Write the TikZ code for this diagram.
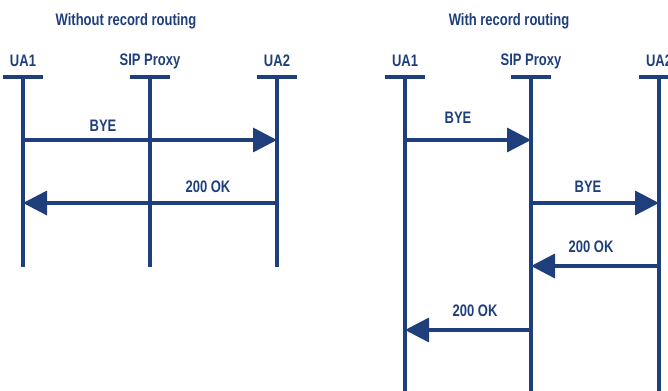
\documentclass[tikz,border=0pt]{standalone}
\usepackage{fontspec}
\setmainfont[FakeStretch=0.78]{Liberation Sans}
\usetikzlibrary{arrows.meta}
\definecolor{sipblue}{HTML}{1F3F7C}
\tikzset{
  lifeline/.style={sipblue, line width=3pt},
  headbar/.style={sipblue, line width=2.4pt},
  msg/.style={sipblue, line width=2.6pt, -{Triangle[length=18pt,width=18pt]}},
  lbl/.style={text=sipblue, font=\bfseries\fontsize{12.5}{14}\selectfont, inner sep=1pt},
  ttl/.style={text=sipblue, font=\bfseries\fontsize{12.5}{14}\selectfont, inner sep=1pt}
}
\begin{document}
\begin{tikzpicture}[x=0.75pt, y=-0.75pt]
    \useasboundingbox (0,0) rectangle (668,391);

    % Titles of the two cases
    \node[ttl] (t-left) at (126,21) {Without record routing};
    \node[ttl] (t-right) at (509,21) {With record routing};

    % Draw the lifelines of the left case (no record routing)
    \foreach \name/\x/\txt in {a/23/UA1, b/150/SIP Proxy, c/277/UA2} {
        \node[lbl] (l-\name) at (\x,61) {\txt};
        \coordinate (l-\name-top) at (\x,77);
        \coordinate (l-\name-bot) at (\x,267);
        \draw[headbar] ([xshift=-15]l-\name-top) -- ([xshift=15]l-\name-top);
        \draw[lifeline] (l-\name-top) -- (l-\name-bot);
    }

    % Draw the lifelines of the right case (with record routing)
    \foreach \name/\x/\txt in {a/405/UA1, b/531/SIP Proxy, c/659/UA2} {
        \node[lbl] (r-\name) at (\x,61) {\txt};
        \coordinate (r-\name-top) at (\x,77);
        \coordinate (r-\name-bot) at (\x,391);
        \draw[headbar] ([xshift=-15]r-\name-top) -- ([xshift=15]r-\name-top);
        \draw[lifeline] (r-\name-top) -- (r-\name-bot);
    }

    % Messages on the left: BYE goes straight to UA2, 200 OK straight back
    \coordinate (l-bye-from) at (23,140);
    \coordinate (l-bye-to) at (277,140);
    \coordinate (l-ok-from) at (277,203);
    \coordinate (l-ok-to) at (23,203);
    \draw[msg] (l-bye-from) -- (l-bye-to);
    \draw[msg] (l-ok-from) -- (l-ok-to);
    \node[lbl] (l-bye) at (103,126) {BYE};
    \node[lbl] (l-ok) at (208,187) {200 OK};

    % Messages on the right: every message passes through the proxy
    \coordinate (r-bye1-from) at (405,140);
    \coordinate (r-bye1-to) at (531,140);
    \coordinate (r-bye2-from) at (531,203);
    \coordinate (r-bye2-to) at (659,203);
    \coordinate (r-ok1-from) at (659,266);
    \coordinate (r-ok1-to) at (531,266);
    \coordinate (r-ok2-from) at (531,330);
    \coordinate (r-ok2-to) at (405,330);
    \draw[msg] (r-bye1-from) -- (r-bye1-to);
    \draw[msg] (r-bye2-from) -- (r-bye2-to);
    \draw[msg] (r-ok1-from) -- (r-ok1-to);
    \draw[msg] (r-ok2-from) -- (r-ok2-to);
    \node[lbl] (r-bye1) at (458,118) {BYE};
    \node[lbl] (r-bye2) at (588,187) {BYE};
    \node[lbl] (r-ok1) at (591,247) {200 OK};
    \node[lbl] (r-ok2) at (475,311) {200 OK};
\end{tikzpicture}
\end{document}
